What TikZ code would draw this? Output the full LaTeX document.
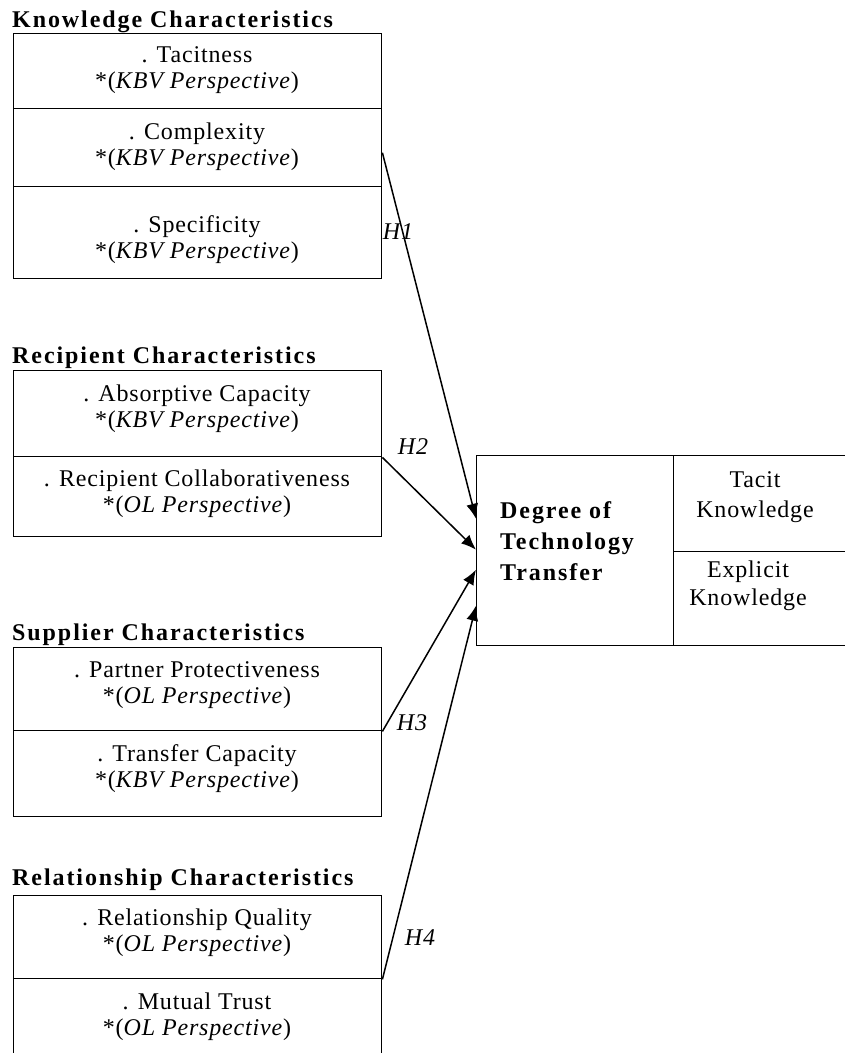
\documentclass[tikz,border=0pt]{standalone}
\usepackage{fontspec}
\setmainfont{Liberation Serif}
\newfontfamily\bodyf[LetterSpace=3.5]{Liberation Serif}
\newfontfamily\headf[LetterSpace=8]{Liberation Serif}
\usetikzlibrary{arrows.meta}
\tikzset{
  cell/.style={draw, line width=1.4pt, minimum width=368pt, inner sep=0pt, anchor=north west},
  txt/.style={align=center, inner sep=0pt, font=\bodyf\fontsize{24}{26}\selectfont},
  head/.style={anchor=base west, inner sep=0pt, font=\headf\bfseries\fontsize{24}{26}\selectfont},
  hyp/.style={inner sep=0pt, font=\bodyf\itshape\fontsize{24}{26}\selectfont},
  link/.style={line width=1.5pt, -{Latex[length=15pt,width=12pt]}},
  bigbox/.style={draw, line width=1.4pt, anchor=north west, inner sep=0pt}
}
\newcommand{\persp}[1]{\textit{#1 Perspective})}
\begin{document}
\begin{tikzpicture}[x=1pt,y=-1pt]
\useasboundingbox (0,0) rectangle (845,1053);
\clip (0,0) rectangle (845,1053);
\fill[white] (0,0) rectangle (845,1053);

% Knowledge
\node[head] (kh) at (12,27) {Knowledge Characteristics};
\node[cell, minimum height=75pt] (kb1) at (13,33) {};
\node[cell, minimum height=78pt] (kb2) at (13,108) {};
\node[cell, minimum height=92pt] (kb3) at (13,186) {};
\node[txt] (kt1) at (197,70) {. Tacitness\\{}*(\persp{KBV}};
\node[txt] (kt2) at (197,147) {. Complexity\\{}*(\persp{KBV}};
\node[txt] (kt3) at (197,240) {. Specificity\\{}*(\persp{KBV}};

% Recipient
\node[head] (rh) at (12,363) {Recipient Characteristics};
\node[cell, minimum height=86pt] (rb1) at (13,370) {};
\node[cell, minimum height=80pt] (rb2) at (13,456) {};
\node[txt] (rt1) at (197,409) {. Absorptive Capacity\\{}*(\persp{KBV}};
\node[txt] (rt2) at (197,494) {. Recipient Collaborativeness\\{}*(\persp{OL}};

% Supplier
\node[head] (sh) at (12,640) {Supplier Characteristics};
\node[cell, minimum height=83pt] (sb1) at (13,647) {};
\node[cell, minimum height=86pt] (sb2) at (13,730) {};
\node[txt] (st1) at (197,685) {. Partner Protectiveness\\{}*(\persp{OL}};
\node[txt] (st2) at (197,769) {. Transfer Capacity\\{}*(\persp{KBV}};

% Relationship
\node[head] (lh) at (12,885) {Relationship Characteristics};
\node[cell, minimum height=83pt] (lb1) at (13,895) {};
\node[cell, minimum height=100pt] (lb2) at (13,978) {};
\node[txt] (lt1) at (197,933) {. Relationship Quality\\{}*(\persp{OL}};
\node[txt] (lt2) at (197,1017) {. Mutual Trust\\{}*(\persp{OL}};

% Degree of technology transfer
\node[bigbox, minimum width=197pt, minimum height=190pt] (dt) at (476,455) {};
\node[bigbox, minimum width=190pt, minimum height=96pt] (tk) at (673,455) {};
\node[bigbox, minimum width=190pt, minimum height=94pt] (ek) at (673,551) {};
\node[anchor=west, align=left, inner sep=0pt, font=\headf\bfseries\fontsize{24}{31}\selectfont] (dtt) at (500,541) {Degree of\\Technology\\Transfer};
\node[txt, font=\bodyf\fontsize{24}{30}\selectfont] (tkt) at (755,497) {Tacit\\Knowledge};
\node[txt, font=\bodyf\fontsize{24}{28}\selectfont] (ekt) at (748,586) {Explicit\\Knowledge};

% hypotheses
\draw[link] ([yshift=-5pt]kb2.east) -- ([yshift=32pt]dt.west);
\draw[link] (rb1.south east) -- ([yshift=1pt]dt.west);
\draw[link] (sb1.south east) -- ([yshift=-19pt]dt.west);
\draw[link] (lb1.south east) -- ([yshift=-55pt]dt.west);
\node[hyp] (h1) at (398,232) {H1};
\node[hyp] (h2) at (413,447) {H2};
\node[hyp] (h3) at (412,723) {H3};
\node[hyp] (h4) at (420,938) {H4};
\end{tikzpicture}
\end{document}
